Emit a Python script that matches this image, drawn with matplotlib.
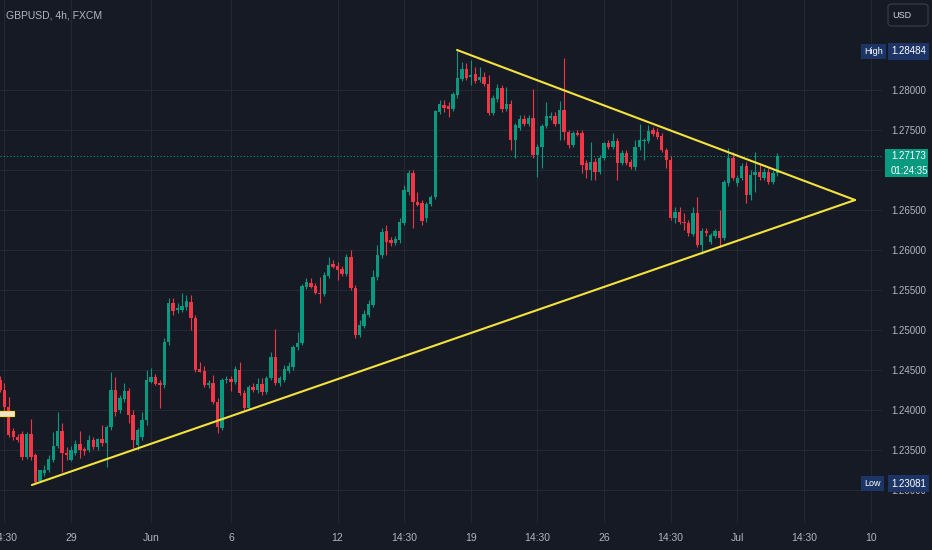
import matplotlib
matplotlib.use('Agg')
import matplotlib.pyplot as plt
from matplotlib.patches import Rectangle, FancyBboxPatch
import numpy as np

plt.rcParams['font.family'] = ['Liberation Sans', 'DejaVu Sans']

# ---------------- data ----------------
first_index = -16   # candle index of first visible bar (index 0 = 29 May 00:00)

opens = [
    1.24375, 1.24250, 1.24038, 1.23738, 1.23663, 1.23700, 1.23413, 1.23700, 1.23438, 1.23113,
    1.23213, 1.23250, 1.23375, 1.23550, 1.23738, 1.23463, 1.23375, 1.23463, 1.23575, 1.23513,
    1.23500, 1.23625, 1.23538, 1.23638, 1.23588, 1.23788, 1.24250, 1.24000, 1.24138, 1.24238,
    1.23938, 1.23563, 1.23663, 1.23875, 1.24350, 1.24413, 1.24338, 1.24313, 1.24850, 1.25338,
    1.25250, 1.25250, 1.25288, 1.25350, 1.25150, 1.24513, 1.24488, 1.24313, 1.24338, 1.24100,
    1.23775, 1.24375, 1.24388, 1.24350, 1.24500, 1.24213, 1.24025, 1.24288, 1.24250, 1.24325,
    1.24225, 1.24400, 1.24663, 1.24338, 1.24375, 1.24488, 1.24538, 1.24788, 1.24838, 1.25538,
    1.25588, 1.25550, 1.25463, 1.25450, 1.25675, 1.25825, 1.25800, 1.25763, 1.25700, 1.25913,
    1.25525, 1.24938, 1.25050, 1.25188, 1.25313, 1.25663, 1.25938, 1.26238, 1.26125, 1.26088,
    1.26125, 1.26338, 1.26725, 1.26963, 1.26600, 1.26588, 1.26400, 1.26575, 1.26663, 1.27725,
    1.27813, 1.27800, 1.27763, 1.27938, 1.28138, 1.28263, 1.28163, 1.28200, 1.28125, 1.28163,
    1.28075, 1.27713, 1.27888, 1.28025, 1.27763, 1.27825, 1.27375, 1.27525, 1.27638, 1.27575,
    1.27650, 1.27188, 1.27288, 1.27550, 1.27650, 1.27675, 1.27575, 1.27750, 1.27475, 1.27313,
    1.27463, 1.27463, 1.27088, 1.27000, 1.27100, 1.26975, 1.27150, 1.27338, 1.27288, 1.27363,
    1.27088, 1.27213, 1.27100, 1.27038, 1.27288, 1.27363, 1.27363, 1.27500, 1.27475, 1.27425,
    1.27250, 1.27125, 1.26400, 1.26475, 1.26350, 1.26338, 1.26200, 1.26463, 1.26063, 1.26238,
    1.26100, 1.26175, 1.26238, 1.26150, 1.26838, 1.27150, 1.26838, 1.26900, 1.27050, 1.26688,
    1.26938, 1.26975, 1.26900, 1.26975, 1.26850, 1.26963,
]
highs = [
    1.24425, 1.24338, 1.24163, 1.23775, 1.23700, 1.23738, 1.23725, 1.23888, 1.23463, 1.23250,
    1.23313, 1.23438, 1.23725, 1.23975, 1.23838, 1.23538, 1.23550, 1.23625, 1.23738, 1.23538,
    1.23688, 1.23663, 1.23650, 1.23813, 1.23813, 1.24475, 1.24413, 1.24188, 1.24338, 1.24275,
    1.24000, 1.23775, 1.23975, 1.24500, 1.24525, 1.24450, 1.24375, 1.24900, 1.25400, 1.25400,
    1.25338, 1.25463, 1.25438, 1.25438, 1.25188, 1.24600, 1.24550, 1.24375, 1.24438, 1.24150,
    1.24400, 1.24425, 1.24425, 1.24550, 1.24600, 1.24250, 1.24313, 1.24338, 1.24400, 1.24400,
    1.24425, 1.24725, 1.25013, 1.24425, 1.24563, 1.24600, 1.24813, 1.24975, 1.25575, 1.25650,
    1.25650, 1.25588, 1.25663, 1.25725, 1.25913, 1.25875, 1.25850, 1.25800, 1.25950, 1.26000,
    1.25563, 1.25125, 1.25250, 1.25375, 1.25750, 1.26063, 1.26275, 1.26313, 1.26163, 1.26175,
    1.26400, 1.26813, 1.27000, 1.27000, 1.26725, 1.26625, 1.26600, 1.26688, 1.27750, 1.27875,
    1.27875, 1.27850, 1.27975, 1.28484, 1.28350, 1.28338, 1.28375, 1.28288, 1.28288, 1.28225,
    1.28188, 1.27938, 1.28075, 1.28063, 1.28038, 1.27875, 1.27588, 1.27688, 1.27688, 1.27688,
    1.28013, 1.27325, 1.27575, 1.27850, 1.27725, 1.27725, 1.27863, 1.28400, 1.27500, 1.27488,
    1.27500, 1.27500, 1.27125, 1.27350, 1.27150, 1.27188, 1.27350, 1.27375, 1.27463, 1.27400,
    1.27250, 1.27250, 1.27138, 1.27375, 1.27575, 1.27400, 1.27563, 1.27538, 1.27525, 1.27463,
    1.27275, 1.27175, 1.26538, 1.26538, 1.26463, 1.26375, 1.26538, 1.26663, 1.26275, 1.26275,
    1.26213, 1.26263, 1.26500, 1.26875, 1.27275, 1.27225, 1.26938, 1.27088, 1.27100, 1.27000,
    1.27225, 1.27088, 1.27025, 1.27025, 1.27000, 1.27213,
]
lows = [
    1.24225, 1.23975, 1.23663, 1.23625, 1.23600, 1.23375, 1.23388, 1.23375, 1.23081, 1.23095,
    1.23175, 1.23225, 1.23350, 1.23525, 1.23225, 1.23375, 1.23363, 1.23438, 1.23400, 1.23438,
    1.23475, 1.23513, 1.23500, 1.23550, 1.23288, 1.23750, 1.23925, 1.23963, 1.24100, 1.23838,
    1.23530, 1.23500, 1.23625, 1.23813, 1.24338, 1.24313, 1.24025, 1.24275, 1.24813, 1.25188,
    1.25213, 1.25225, 1.25250, 1.25000, 1.24475, 1.24475, 1.24288, 1.24275, 1.24075, 1.23713,
    1.23750, 1.24338, 1.24238, 1.24325, 1.24188, 1.24000, 1.24000, 1.24225, 1.24213, 1.24188,
    1.24200, 1.24375, 1.24313, 1.24300, 1.24350, 1.24463, 1.24500, 1.24750, 1.24813, 1.25513,
    1.25525, 1.25450, 1.25338, 1.25425, 1.25650, 1.25775, 1.25625, 1.25675, 1.25675, 1.25500,
    1.24900, 1.24913, 1.25025, 1.25163, 1.25288, 1.25625, 1.25900, 1.25938, 1.26050, 1.26063,
    1.26088, 1.26313, 1.26688, 1.26275, 1.26550, 1.26313, 1.26350, 1.26550, 1.26638, 1.27700,
    1.27725, 1.27663, 1.27738, 1.27900, 1.28113, 1.28125, 1.28063, 1.28088, 1.28100, 1.28050,
    1.27688, 1.27688, 1.27850, 1.27725, 1.27738, 1.27250, 1.27150, 1.27500, 1.27550, 1.27550,
    1.27150, 1.26913, 1.27025, 1.27525, 1.27625, 1.27550, 1.27375, 1.27375, 1.27275, 1.27288,
    1.27425, 1.26963, 1.26900, 1.26875, 1.26875, 1.26950, 1.27125, 1.27263, 1.27263, 1.26875,
    1.27063, 1.27063, 1.27013, 1.27000, 1.27250, 1.27125, 1.27338, 1.27425, 1.27388, 1.27225,
    1.27025, 1.26375, 1.26338, 1.26325, 1.26250, 1.26175, 1.26175, 1.26038, 1.25950, 1.26175,
    1.26075, 1.26150, 1.26038, 1.26125, 1.26800, 1.26875, 1.26800, 1.26875, 1.26588, 1.26625,
    1.26725, 1.26875, 1.26875, 1.26825, 1.26825, 1.26925,
]
closes = [
    1.24250, 1.24038, 1.23688, 1.23663, 1.23625, 1.23413, 1.23700, 1.23413, 1.23100, 1.23250,
    1.23250, 1.23388, 1.23550, 1.23738, 1.23463, 1.23438, 1.23500, 1.23575, 1.23500, 1.23488,
    1.23625, 1.23538, 1.23638, 1.23588, 1.23788, 1.24250, 1.23975, 1.24150, 1.24238, 1.23938,
    1.23625, 1.23750, 1.23875, 1.24375, 1.24413, 1.24325, 1.24313, 1.24850, 1.25338, 1.25238,
    1.25275, 1.25300, 1.25363, 1.25150, 1.24500, 1.24475, 1.24313, 1.24338, 1.24100, 1.23788,
    1.24375, 1.24388, 1.24350, 1.24513, 1.24213, 1.24025, 1.24288, 1.24250, 1.24325, 1.24225,
    1.24400, 1.24663, 1.24338, 1.24400, 1.24513, 1.24550, 1.24788, 1.24838, 1.25550, 1.25600,
    1.25538, 1.25463, 1.25450, 1.25688, 1.25813, 1.25788, 1.25750, 1.25700, 1.25913, 1.25525,
    1.24938, 1.25063, 1.25200, 1.25325, 1.25663, 1.25938, 1.26225, 1.26100, 1.26088, 1.26138,
    1.26350, 1.26750, 1.26963, 1.26600, 1.26563, 1.26363, 1.26575, 1.26663, 1.27738, 1.27825,
    1.27775, 1.27763, 1.27950, 1.28150, 1.28263, 1.28150, 1.28188, 1.28113, 1.28163, 1.28075,
    1.27713, 1.27900, 1.28025, 1.27763, 1.27825, 1.27375, 1.27563, 1.27638, 1.27575, 1.27650,
    1.27188, 1.27288, 1.27550, 1.27675, 1.27675, 1.27575, 1.27750, 1.27475, 1.27313, 1.27463,
    1.27438, 1.27063, 1.27000, 1.27100, 1.26975, 1.27150, 1.27338, 1.27288, 1.27363, 1.27088,
    1.27213, 1.27088, 1.27038, 1.27288, 1.27375, 1.27375, 1.27488, 1.27450, 1.27413, 1.27250,
    1.27125, 1.26400, 1.26475, 1.26350, 1.26338, 1.26213, 1.26463, 1.26063, 1.26238, 1.26213,
    1.26188, 1.26238, 1.26150, 1.26850, 1.27150, 1.26900, 1.26900, 1.27050, 1.26688, 1.26938,
    1.26975, 1.26913, 1.26975, 1.26850, 1.26963, 1.27173,
]

xtick_index = [-15, 0, 18, 36, 60, 75, 90, 105, 120, 135, 150, 165, 180]
xtick_labels = ['14:30', '29', 'Jun', '6', '12', '14:30', '19', '14:30', '26', '14:30', 'Jul', '14:30', '10']
ytick_values = [1.230, 1.235, 1.240, 1.245, 1.250, 1.255, 1.260, 1.265, 1.270, 1.275, 1.280]
hidden_ytick = 1.270   # label covered by the last-price tag

title = 'GBPUSD, 4h, FXCM'
currency = 'USD'
high_value = 1.28484
low_value = 1.23081
last_price = 1.27173
countdown = '01:24:35'

# triangle trendlines (anchor points: candle index, price)
upper_line_idx = [86.9, 176.5]
upper_line_price = [1.28500, 1.26625]
lower_line_idx = [-8.8, 176.5]
lower_line_price = [1.23063, 1.26625]

# small drawing at left edge (index range, price range)
marker_idx = [-16.5, -12.8]
marker_price = [1.23925, 1.23988]

# ---------------- style ----------------
BG = '#161a25'
GRID = '#242833'
TXT = '#b2b5be'
UP = '#089981'
DN = '#f23645'
YEL = '#f5e23a'
NAVY = '#1c3566'

W, H = 932, 550
fig = plt.figure(figsize=(W / 100, H / 100), dpi=100, facecolor=BG)
ax = fig.add_axes([0, 27 / H, 882 / W, 523 / H])
ax.set_facecolor(BG)

o = np.array(opens); h = np.array(highs); l = np.array(lows); c = np.array(closes)
x = np.arange(first_index, first_index + len(o))
cols = np.where(c >= o, UP, DN)

ax.vlines(x, l, h, colors=cols, linewidth=0.8, zorder=3)
body_h = np.maximum(np.abs(c - o), 0.00012)
ax.bar(x, body_h, bottom=np.minimum(o, c), width=0.76, color=cols, linewidth=0, zorder=4)

ax.set_xlim(-15.98, 182.57)
ax.set_ylim(1.22588, 1.29125)

# grid / ticks
ax.set_xticks(xtick_index)
ax.set_xticklabels(xtick_labels)
ax.set_yticks(ytick_values)
ax.set_yticklabels(['' if abs(v - hidden_ytick) < 1e-9 else '{:.5f}'.format(v) for v in ytick_values])
ax.yaxis.tick_right()
ax.grid(True, color=GRID, linewidth=0.8, zorder=0)
ax.tick_params(axis='x', length=0, pad=7, labelsize=7.5, labelcolor=TXT)
ax.tick_params(axis='y', length=0, pad=7, labelsize=7, labelcolor=TXT)
for s in ax.spines.values():
    s.set_visible(False)

# triangle
ax.plot(upper_line_idx, upper_line_price, color=YEL, linewidth=1.5, zorder=6, solid_capstyle='round')
ax.plot(lower_line_idx, lower_line_price, color=YEL, linewidth=1.5, zorder=6, solid_capstyle='round')

# left marker
ax.add_patch(Rectangle((marker_idx[0], marker_price[0]), marker_idx[1] - marker_idx[0],
                       marker_price[1] - marker_price[0], facecolor='#efe6c8', edgecolor=YEL,
                       linewidth=0.8, zorder=7))

# last price dotted line
ax.axhline(last_price, color=UP, linestyle=(0, (1, 2)), linewidth=0.8, zorder=2)

# title
fig.text(6 / W, 1 - 15 / H, title, color=TXT, fontsize=7.5, ha='left', va='center')

# currency box
fig.add_artist(FancyBboxPatch((888 / W, 1 - 26 / H), 40 / W, 22 / H,
                              boxstyle='round,pad=0,rounding_size=0.005',
                              transform=fig.transFigure, facecolor=BG, edgecolor='#363a45', linewidth=0.9))
fig.text(892 / W, 1 - 15 / H, currency, color='#d1d4dc', fontsize=6.5, ha='left', va='center')

ytr = ax.get_yaxis_transform()
lab_x = 891 / 882
tag_x = 864 / 882

def price_tag(value, tag):
    ax.text(tag_x, value, tag, transform=ytr, ha='left', va='center', color='white', fontsize=6.5,
            bbox=dict(boxstyle='square,pad=0.35', fc=NAVY, ec='none'), zorder=10, clip_on=False)
    ax.text(lab_x, value, '{:.5f}'.format(value), transform=ytr, ha='left', va='center', color='white',
            fontsize=7, bbox=dict(boxstyle='square,pad=0.35', fc=NAVY, ec='none'), zorder=10, clip_on=False)

price_tag(high_value, 'High')
price_tag(low_value, 'Low')

# last price label (green box)
box_top = last_price + 0.00090
box_bottom = last_price - 0.00262
ax.add_patch(Rectangle((885 / 882, box_bottom), 43 / 882, box_top - box_bottom, transform=ytr,
                       facecolor=UP, edgecolor='none', zorder=9, clip_on=False))
ax.text(lab_x, last_price, '{:.5f}'.format(last_price), transform=ytr, ha='left', va='center',
        color='white', fontsize=7, zorder=10, clip_on=False)
ax.annotate(countdown, xy=(lab_x, last_price), xycoords=ytr, xytext=(0, -10.5),
            textcoords='offset points', ha='left', va='center', color='white', fontsize=7,
            zorder=10, annotation_clip=False)

fig.savefig('out.png', dpi=100, facecolor=BG)
